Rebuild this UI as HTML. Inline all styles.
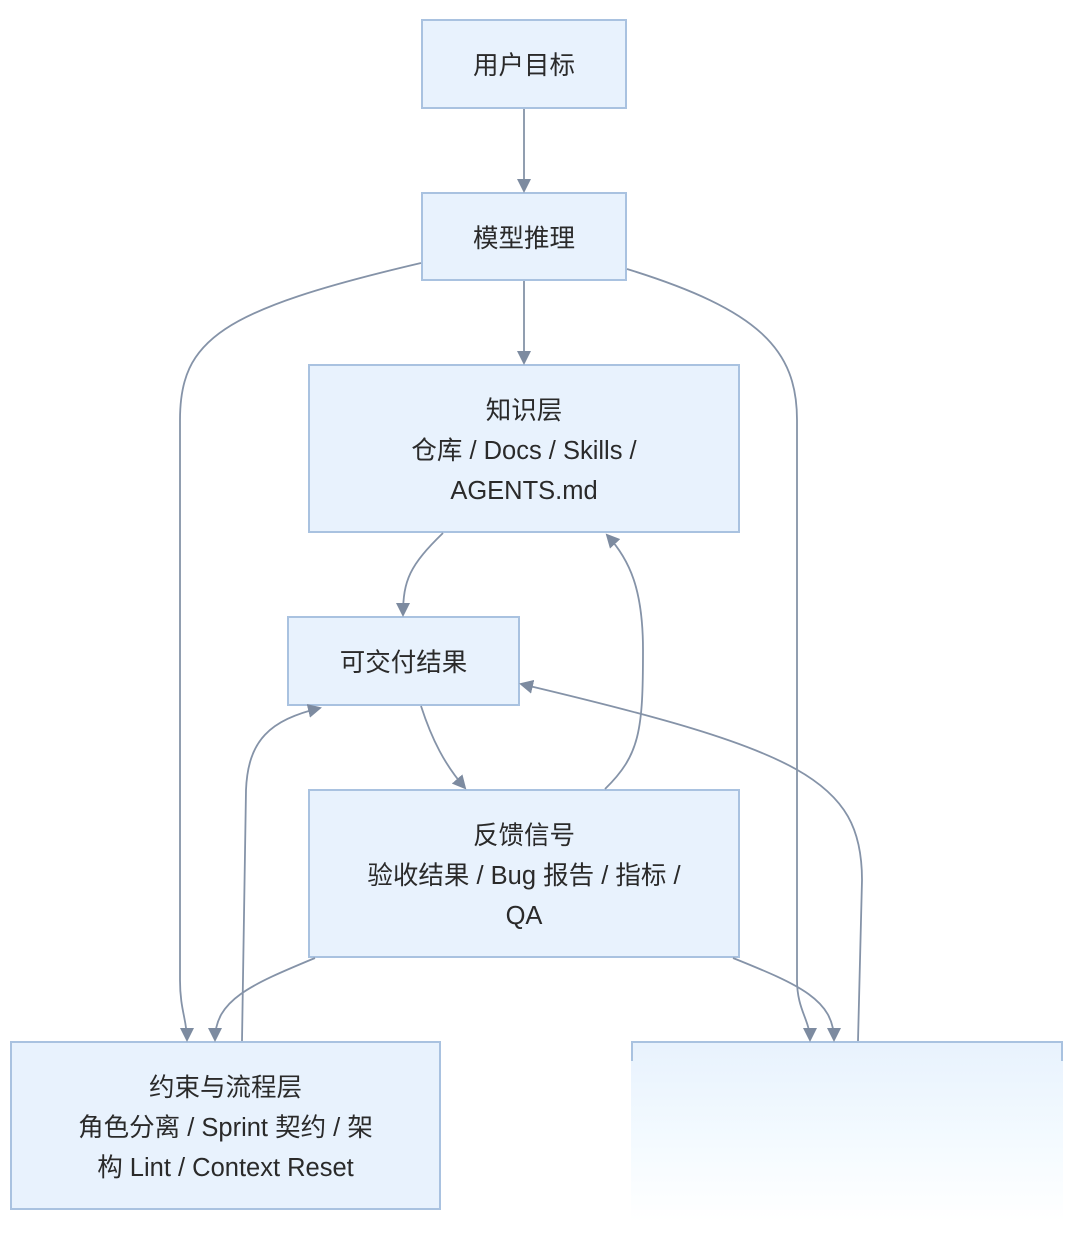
<!DOCTYPE html>
<html><head><meta charset="utf-8"><style>
body{margin:0;background:#fff;width:1080px;height:1246px;overflow:hidden;position:relative;font-family:"Liberation Sans","Noto Sans CJK SC",sans-serif;}
.b{position:absolute;box-sizing:border-box;background:#e8f2fd;border:2px solid #a9c2e0;display:flex;align-items:center;justify-content:center;text-align:center;color:#2a2a2a;font-size:25.5px;line-height:40px;padding-top:4px;}
svg{position:absolute;left:0;top:0}
</style></head><body>
<div class="b" style="left:421px;top:19px;width:206px;height:90px">用户目标</div>
<div class="b" style="left:421px;top:192px;width:206px;height:89px">模型推理</div>
<div class="b" style="left:308px;top:364px;width:432px;height:169px">知识层<br>仓库 / Docs / Skills /<br>AGENTS.md</div>
<div class="b" style="left:287px;top:616px;width:233px;height:90px">可交付结果</div>
<div class="b" style="left:308px;top:789px;width:432px;height:169px">反馈信号<br>验收结果 / Bug 报告 / 指标 /<br>QA</div>
<div class="b" style="left:10px;top:1041px;width:431px;height:169px">约束与流程层<br>角色分离 / Sprint 契约 / 架<br>构 Lint / Context Reset</div>
<div style="position:absolute;left:631px;top:1041px;width:432px;height:190px;box-sizing:border-box;border-top:2px solid #a9c2e0;background:linear-gradient(#e8f2fd,#f3faff 50%,#fff 95%)"></div>
<div style="position:absolute;left:631px;top:1041px;width:2px;height:20px;background:#a9c2e0"></div>
<div style="position:absolute;left:1061px;top:1041px;width:2px;height:20px;background:#a9c2e0"></div>
<svg width="1080" height="1246" viewBox="0 0 1080 1246">
<defs><marker id="a" markerWidth="14" markerHeight="14" refX="12" refY="7" orient="auto" markerUnits="userSpaceOnUse"><path d="M0,0 L14,7 L0,14 z" fill="#7d8ba0"/></marker></defs>
<g fill="none" stroke="#8593a8" stroke-width="1.8" marker-end="url(#a)">
<path d="M524,109 L524,191"/>
<path d="M524,281 L524,363"/>
<path d="M421,263 C220,310 180,340 180,420 L180,980 C180,1010 187,1020 187,1040"/>
<path d="M627,269 C760,310 797,350 797,420 L797,980 C797,1010 810,1020 810,1040"/>
<path d="M443,533 C410,565 403,580 403,615"/>
<path d="M421,706 C432,740 445,765 465,788"/>
<path d="M605,789 C640,755 643,730 643,650 C643,590 630,560 607,535"/>
<path d="M315,958 C250,985 215,1000 215,1040"/>
<path d="M242,1041 L246,790 C248,740 270,720 320,708"/>
<path d="M733,958 C800,985 834,1000 834,1040"/>
<path d="M858,1041 L862,880 C862,780 800,750 521,684"/>
</g>
</svg>
</body></html>
